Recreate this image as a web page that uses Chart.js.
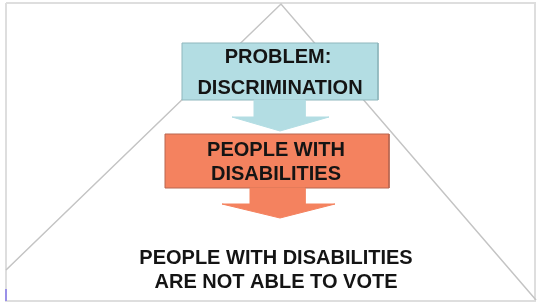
<!DOCTYPE html>
<html>
<head>
<meta charset="utf-8">
<script src="https://cdn.jsdelivr.net/npm/chart.js@4/dist/chart.umd.min.js"></script>
<style>
  html, body { margin: 0; padding: 0; background: #ffffff; }
  canvas { display: block; }
</style>
</head>
<body>
<canvas id="c" width="538" height="304"></canvas>
<script>
// ---- shape vertices (diagram coordinates, y grows downward) ----
const frameX = [6, 535, 535, 6, 6];
const frameY = [3, 3, 301, 301, 3];

const cornerMarkX = [6, 6];
const cornerMarkY = [289, 301];

const pyramidX = [6, 281, 536];
const pyramidY = [270, 4, 300];

const problemBoxX = [182, 378, 378, 182, 182];
const problemBoxY = [43, 43, 100, 100, 43];

const problemArrowX = [254, 305, 305, 329, 280, 232, 254, 254];
const problemArrowY = [100, 100, 117, 117, 131, 117, 117, 100];

const peopleBoxX = [165, 389, 389, 165, 165];
const peopleBoxY = [134, 134, 188, 188, 134];

const peopleArrowX = [250, 305, 305, 335, 280, 222, 250, 250];
const peopleArrowY = [188, 188, 204, 204, 218, 204, 204, 188];

// ---- text labels ----
const labelTexts = ["PROBLEM:", "DISCRIMINATION", "PEOPLE WITH", "DISABILITIES",
                    "PEOPLE WITH DISABILITIES", "ARE NOT ABLE TO VOTE"];
const labelX = [278, 280, 276, 276, 276, 276];
const labelY = [57, 88, 150, 174, 258, 282];

function pts(xs, ys) { return xs.map((x, i) => ({ x: x, y: ys[i] })); }

function shape(xs, ys, fillColor, lineColor, lineWidth, filled) {
  return {
    type: 'line',
    data: pts(xs, ys),
    showLine: true,
    fill: filled ? 'shape' : false,
    backgroundColor: fillColor,
    borderColor: lineColor,
    borderWidth: lineWidth,
    pointRadius: 0,
    pointHoverRadius: 0,
    tension: 0,
    borderJoinStyle: 'miter',
    clip: false
  };
}

const textPlugin = {
  id: 'diagramText',
  afterDatasetsDraw(chart) {
    const ctx = chart.ctx;
    const xs = chart.scales.x, ys = chart.scales.y;
    ctx.save();
    ctx.fillStyle = '#141414';
    ctx.font = 'bold 20px "Liberation Sans", Arial, sans-serif';
    ctx.textAlign = 'center';
    ctx.textBaseline = 'middle';
    labelTexts.forEach((t, i) => {
      ctx.fillText(t, xs.getPixelForValue(labelX[i]), ys.getPixelForValue(labelY[i]));
    });
    ctx.restore();
  }
};

new Chart(document.getElementById('c'), {
  type: 'scatter',
  data: {
    datasets: [
      shape(peopleArrowX, peopleArrowY, '#f4825f', '#f4825f', 1, true),
      shape(peopleBoxX, peopleBoxY, '#f4825f', '#b86650', 1, true),
      shape(problemArrowX, problemArrowY, '#b3dde3', '#b3dde3', 1, true),
      shape(problemBoxX, problemBoxY, '#b3dde3', '#8fb7bd', 1, true),
      shape(pyramidX, pyramidY, 'transparent', '#c4c4c4', 1.5, false),
      shape(cornerMarkX, cornerMarkY, 'transparent', '#9a90e8', 2, false),
      shape(frameX, frameY, 'transparent', '#dedede', 2, false)
    ]
  },
  options: {
    responsive: false,
    animation: false,
    events: [],
    layout: { padding: 0 },
    plugins: { legend: { display: false }, tooltip: { enabled: false } },
    scales: {
      x: { type: 'linear', min: 0, max: 538, display: false },
      y: { type: 'linear', min: 0, max: 304, reverse: true, display: false }
    }
  },
  plugins: [textPlugin]
});
</script>
</body>
</html>
